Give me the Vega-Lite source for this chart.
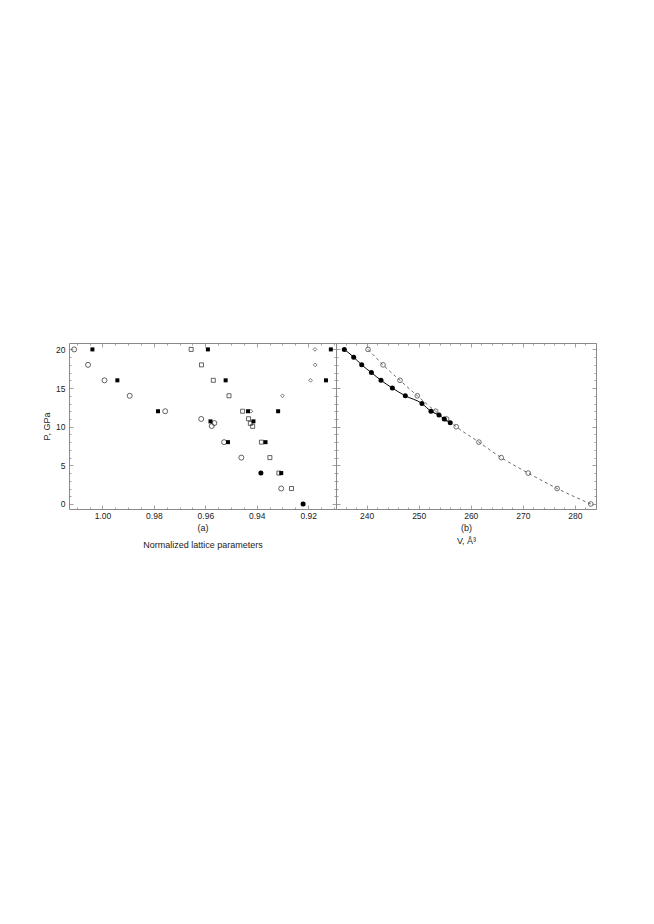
{
  "$schema": "https://vega.github.io/schema/vega-lite/v6.json",
  "padding": {"left": 42, "top": 342, "right": 5, "bottom": 5},
  "config": {
    "font": "Liberation Sans",
    "view": {"stroke": "#8a8a8a", "strokeWidth": 1},
    "axis": {
      "domain": false, "grid": false,
      "tickColor": "#8a8a8a", "tickWidth": 0.8,
      "labelColor": "#222", "titleColor": "#222",
      "labelFont": "Liberation Sans", "titleFont": "Liberation Sans",
      "labelFontSize": 8.5, "titleFontSize": 9, "titleFontWeight": "normal"
    }
  },
  "datasets": {
    "a": [
      {"x": 1.011, "p": 20, "m": "oc"}, {"x": 1.0056, "p": 18, "m": "oc"}, {"x": 0.9992, "p": 16, "m": "oc"},
      {"x": 0.9894, "p": 14, "m": "oc"}, {"x": 0.9756, "p": 12, "m": "oc"}, {"x": 0.9616, "p": 11, "m": "oc"},
      {"x": 0.9565, "p": 10.47, "m": "oc"}, {"x": 0.9575, "p": 10.09, "m": "oc"}, {"x": 0.9527, "p": 8, "m": "oc"},
      {"x": 0.946, "p": 6, "m": "oc"}, {"x": 0.9305, "p": 2, "m": "oc"},
      {"x": 0.9384, "p": 4, "m": "fc"}, {"x": 0.922, "p": 0, "m": "fc"},
      {"x": 1.0039, "p": 20, "m": "fs"}, {"x": 0.9942, "p": 16, "m": "fs"}, {"x": 0.9784, "p": 12, "m": "fs"},
      {"x": 0.959, "p": 20, "m": "fs"}, {"x": 0.9521, "p": 16, "m": "fs"}, {"x": 0.9434, "p": 12, "m": "fs"},
      {"x": 0.958, "p": 10.69, "m": "fs"}, {"x": 0.9413, "p": 10.69, "m": "fs"}, {"x": 0.9512, "p": 8, "m": "fs"},
      {"x": 0.9366, "p": 8, "m": "fs"}, {"x": 0.9317, "p": 12, "m": "fs"}, {"x": 0.9305, "p": 4, "m": "fs"},
      {"x": 0.9131, "p": 16, "m": "fs"}, {"x": 0.9112, "p": 20, "m": "fs"}, {"x": 0.922, "p": 0, "m": "fs"},
      {"x": 0.9655, "p": 20, "m": "os"}, {"x": 0.9615, "p": 18, "m": "os"}, {"x": 0.9569, "p": 16, "m": "os"},
      {"x": 0.9508, "p": 14, "m": "os"}, {"x": 0.9455, "p": 12, "m": "os"}, {"x": 0.9432, "p": 11.03, "m": "os"},
      {"x": 0.9425, "p": 10.43, "m": "os"}, {"x": 0.9416, "p": 10.04, "m": "os"}, {"x": 0.9382, "p": 8, "m": "os"},
      {"x": 0.9349, "p": 6, "m": "os"}, {"x": 0.9314, "p": 4, "m": "os"}, {"x": 0.9265, "p": 2, "m": "os"},
      {"x": 0.9174, "p": 20, "m": "od"}, {"x": 0.9173, "p": 18, "m": "od"}, {"x": 0.9191, "p": 16, "m": "od"},
      {"x": 0.93, "p": 14, "m": "od"}, {"x": 0.9423, "p": 12, "m": "od"}
    ],
    "b": [
      {"v": 235.7, "p": 20, "s": "f"}, {"v": 237.5, "p": 19, "s": "f"}, {"v": 239.04, "p": 18, "s": "f"},
      {"v": 240.9, "p": 17, "s": "f"}, {"v": 242.75, "p": 16, "s": "f"}, {"v": 244.93, "p": 15, "s": "f"},
      {"v": 247.42, "p": 14, "s": "f"}, {"v": 250.62, "p": 13, "s": "f"}, {"v": 252.35, "p": 12, "s": "f"},
      {"v": 253.89, "p": 11.5, "s": "f"}, {"v": 254.9, "p": 11, "s": "f"}, {"v": 256.06, "p": 10.5, "s": "f"},
      {"v": 240.26, "p": 20, "s": "o"}, {"v": 243.14, "p": 18, "s": "o"}, {"v": 246.4, "p": 16, "s": "o"},
      {"v": 249.73, "p": 14, "s": "o"}, {"v": 253.25, "p": 12, "s": "o"}, {"v": 255.36, "p": 11, "s": "o"},
      {"v": 257.2, "p": 10, "s": "o"}, {"v": 261.57, "p": 8, "s": "o"}, {"v": 265.86, "p": 6, "s": "o"},
      {"v": 271.04, "p": 4, "s": "o"}, {"v": 276.6, "p": 2, "s": "o"}, {"v": 283.07, "p": 0, "s": "o"}
    ]
  },
  "spacing": 0,
  "bounds": "flush",
  "hconcat": [
    {
      "width": 267, "height": 166,
      "data": {"name": "a"},
      "resolve": {"axis": {"x": "independent", "y": "independent"}},
      "layer": [
        {
          "transform": [{"filter": "datum.m == 'oc'"}],
          "mark": {"type": "point", "shape": "circle", "size": 25, "filled": false, "color": "#222", "strokeWidth": 0.7, "opacity": 1},
          "encoding": {
            "x": {"field": "x", "type": "quantitative",
              "scale": {"domain": [0.9092, 1.013], "reverse": true, "nice": false, "zero": false},
              "axis": {"orient": "bottom", "values": [0.92, 0.94, 0.96, 0.98, 1.0], "format": ".2f", "tickSize": -4, "labelPadding": 6,
                "title": ["(a)", "Normalized lattice parameters"], "titleLineHeight": 17, "titlePadding": 4}},
            "y": {"field": "p", "type": "quantitative",
              "scale": {"domain": [-0.65, 20.83], "nice": false, "zero": false},
              "axis": {"orient": "left", "values": [0, 5, 10, 15, 20], "tickSize": -4, "labelPadding": 8, "title": "P, GPa", "titlePadding": 4}}
          }
        },
        {
          "transform": [{"filter": "datum.m == 'os'"}],
          "mark": {"type": "point", "shape": "square", "size": 16, "filled": false, "color": "#222", "strokeWidth": 0.7, "opacity": 1},
          "encoding": {
            "x": {"field": "x", "type": "quantitative", "scale": {"domain": [0.9092, 1.013], "reverse": true, "nice": false, "zero": false},
              "axis": {"orient": "top", "values": [0.92, 0.94, 0.96, 0.98, 1.0], "tickSize": -4, "labels": false, "title": null}},
            "y": {"field": "p", "type": "quantitative", "scale": {"domain": [-0.65, 20.83], "nice": false, "zero": false},
              "axis": {"orient": "right", "values": [0, 5, 10, 15, 20], "tickSize": -4, "labels": false, "title": null}}
          }
        },
        {
          "transform": [{"filter": "datum.m == 'od'"}],
          "mark": {"type": "point", "shape": "diamond", "size": 14, "filled": false, "color": "#222", "strokeWidth": 0.6, "opacity": 1},
          "encoding": {
            "x": {"field": "x", "type": "quantitative", "scale": {"domain": [0.9092, 1.013], "reverse": true, "nice": false, "zero": false},
              "axis": {"orient": "bottom", "values": [0.91, 0.915, 0.925, 0.93, 0.935, 0.945, 0.95, 0.955, 0.965, 0.97, 0.975, 0.985, 0.99, 0.995, 1.005, 1.01], "tickSize": -2, "labels": false, "title": null}},
            "y": {"field": "p", "type": "quantitative", "scale": {"domain": [-0.65, 20.83], "nice": false, "zero": false},
              "axis": {"orient": "left", "values": [1, 2, 3, 4, 6, 7, 8, 9, 11, 12, 13, 14, 16, 17, 18, 19], "tickSize": -2, "labels": false, "title": null}}
          }
        },
        {
          "transform": [{"filter": "datum.m == 'fs'"}],
          "mark": {"type": "point", "shape": "square", "size": 16, "filled": true, "color": "#000", "opacity": 1},
          "encoding": {
            "x": {"field": "x", "type": "quantitative", "scale": {"domain": [0.9092, 1.013], "reverse": true, "nice": false, "zero": false},
              "axis": {"orient": "top", "values": [0.91, 0.915, 0.925, 0.93, 0.935, 0.945, 0.95, 0.955, 0.965, 0.97, 0.975, 0.985, 0.99, 0.995, 1.005, 1.01], "tickSize": -2, "labels": false, "title": null}},
            "y": {"field": "p", "type": "quantitative", "scale": {"domain": [-0.65, 20.83], "nice": false, "zero": false},
              "axis": {"orient": "right", "values": [1, 2, 3, 4, 6, 7, 8, 9, 11, 12, 13, 14, 16, 17, 18, 19], "tickSize": -2, "labels": false, "title": null}}
          }
        },
        {
          "transform": [{"filter": "datum.m == 'fc'"}],
          "mark": {"type": "point", "shape": "circle", "size": 25, "filled": true, "color": "#000", "opacity": 1},
          "encoding": {
            "x": {"field": "x", "type": "quantitative", "scale": {"domain": [0.9092, 1.013], "reverse": true, "nice": false, "zero": false}, "axis": null},
            "y": {"field": "p", "type": "quantitative", "scale": {"domain": [-0.65, 20.83], "nice": false, "zero": false}, "axis": null}
          }
        }
      ]
    },
    {
      "width": 260, "height": 166,
      "data": {"name": "b"},
      "resolve": {"axis": {"x": "independent", "y": "independent"}},
      "layer": [
        {
          "transform": [{"filter": "datum.s == 'o'"}],
          "mark": {"type": "line", "color": "#444", "strokeWidth": 0.8, "strokeDash": [3, 3], "interpolate": "monotone"},
          "encoding": {
            "x": {"field": "v", "type": "quantitative", "scale": {"domain": [234.1, 284.07], "nice": false, "zero": false},
              "axis": {"orient": "bottom", "values": [240, 250, 260, 270, 280], "tickSize": -4, "labelPadding": 6,
                "title": ["(b)", "V, Å³"], "titleLineHeight": 13, "titlePadding": 4}},
            "y": {"field": "p", "type": "quantitative", "scale": {"domain": [-0.65, 20.83], "nice": false, "zero": false},
              "axis": {"orient": "left", "values": [0, 5, 10, 15, 20], "tickSize": -4, "labels": false, "title": null}}
          }
        },
        {
          "transform": [{"filter": "datum.s == 'f'"}],
          "mark": {"type": "line", "color": "#000", "strokeWidth": 1, "interpolate": "monotone"},
          "encoding": {
            "x": {"field": "v", "type": "quantitative", "scale": {"domain": [234.1, 284.07], "nice": false, "zero": false},
              "axis": {"orient": "top", "values": [240, 250, 260, 270, 280], "tickSize": -4, "labels": false, "title": null}},
            "y": {"field": "p", "type": "quantitative", "scale": {"domain": [-0.65, 20.83], "nice": false, "zero": false},
              "axis": {"orient": "right", "values": [0, 5, 10, 15, 20], "tickSize": -4, "labels": false, "title": null}}
          }
        },
        {
          "transform": [{"filter": "datum.s == 'o'"}],
          "mark": {"type": "point", "shape": "circle", "size": 22, "filled": false, "color": "#333", "strokeWidth": 0.7, "opacity": 1},
          "encoding": {
            "x": {"field": "v", "type": "quantitative", "scale": {"domain": [234.1, 284.07], "nice": false, "zero": false},
              "axis": {"orient": "bottom", "values": [236, 238, 242, 244, 246, 248, 252, 254, 256, 258, 262, 264, 266, 268, 272, 274, 276, 278, 282, 284], "tickSize": -2, "labels": false, "title": null}},
            "y": {"field": "p", "type": "quantitative", "scale": {"domain": [-0.65, 20.83], "nice": false, "zero": false},
              "axis": {"orient": "left", "values": [1, 2, 3, 4, 6, 7, 8, 9, 11, 12, 13, 14, 16, 17, 18, 19], "tickSize": -2, "labels": false, "title": null}}
          }
        },
        {
          "transform": [{"filter": "datum.s == 'f'"}],
          "mark": {"type": "point", "shape": "circle", "size": 25, "filled": true, "color": "#000", "opacity": 1},
          "encoding": {
            "x": {"field": "v", "type": "quantitative", "scale": {"domain": [234.1, 284.07], "nice": false, "zero": false},
              "axis": {"orient": "top", "values": [236, 238, 242, 244, 246, 248, 252, 254, 256, 258, 262, 264, 266, 268, 272, 274, 276, 278, 282, 284], "tickSize": -2, "labels": false, "title": null}},
            "y": {"field": "p", "type": "quantitative", "scale": {"domain": [-0.65, 20.83], "nice": false, "zero": false},
              "axis": {"orient": "right", "values": [1, 2, 3, 4, 6, 7, 8, 9, 11, 12, 13, 14, 16, 17, 18, 19], "tickSize": -2, "labels": false, "title": null}}
          }
        }
      ]
    }
  ]
}
